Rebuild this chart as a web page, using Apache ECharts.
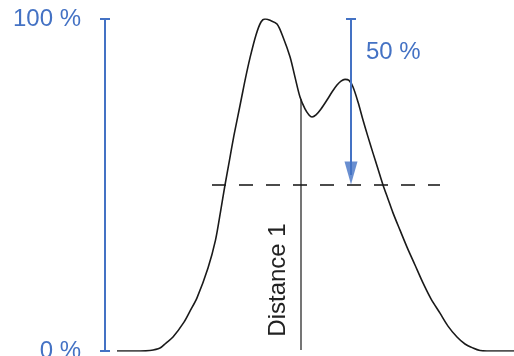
<!DOCTYPE html>
<html>
<head>
<meta charset="utf-8">
<script src="https://cdn.jsdelivr.net/npm/echarts@6/dist/echarts.min.js"></script>
<style>html,body{margin:0;padding:0;background:#fff}#c{width:514px;height:356px}</style>
</head>
<body>
<div id="c"></div>
<script>
// Curve: position (arbitrary units) and relative signal (%)
const positions = [12, 35, 45, 55, 61, 68, 79, 85, 92, 103, 110.5, 115.5, 120, 124.5, 128.5, 132.5, 136.5, 140.5, 145, 151, 156, 160, 165, 172, 178, 185, 190, 195, 200, 204, 207, 211, 216, 222, 227, 232, 236, 240, 244, 248, 253, 258, 263, 268, 273, 278, 283, 288, 295, 302, 310, 318, 326, 335, 343, 352, 360, 368, 375, 382, 409];
const signal    = [0, 0, 0.15, 0.9, 2.4, 4.2, 8.7, 12.0, 16.0, 25.0, 33.4, 41.9, 50.0, 57.5, 64.2, 70.2, 76.2, 82.2, 88.3, 95.2, 99.1, 100, 99.6, 98.5, 94.6, 88.6, 82.5, 76.5, 72.9, 71.1, 70.5, 71.1, 72.9, 75.6, 78.0, 80.1, 81.3, 81.8, 81.5, 79.5, 75.0, 69.6, 64.5, 59.6, 54.8, 50.0, 45.8, 41.6, 36.4, 31.3, 25.9, 20.5, 15.7, 11.4, 7.5, 4.2, 2.1, 0.9, 0.15, 0, 0];
const yTicks = [0, 100];
const halfLevel = 50;
const dashedFrom = 107, dashedTo = 335;
const distancePos = 196, distanceTop = 75.8, distanceBottom = 0.3;
const arrowPos = 246, arrowCapHalf = 5;
const labels = { half: '50 %', distance: 'Distance 1' };

const blue = '#4472c4';
const ink = '#1a1a1a';
const font = 'Liberation Sans, Arial, Helvetica, sans-serif';

const chart = echarts.init(document.getElementById('c'), null, { renderer: 'canvas' });
const curve = positions.map((p, i) => [p, signal[i]]);

chart.setOption({
  animation: false,
  grid: { left: 105, right: 0, top: 19, bottom: 5, outerBoundsMode: 'none', containLabel: false },
  xAxis: { type: 'value', min: 0, max: 409, show: false },
  yAxis: [
    {
      type: 'value', min: yTicks[0], max: yTicks[1], interval: 100, position: 'left',
      axisLine: { show: true, lineStyle: { color: blue, width: 2 } },
      axisTick: { show: true, inside: false, length: 5, lineStyle: { color: blue, width: 2 } },
      axisLabel: { formatter: '{value} %', margin: 24, color: blue, fontSize: 24, fontFamily: font },
      splitLine: { show: false }
    },
    {
      type: 'value', min: yTicks[0], max: yTicks[1], interval: 100, position: 'left',
      axisLine: { show: false },
      axisTick: { show: true, inside: true, length: 5, lineStyle: { color: blue, width: 2 } },
      axisLabel: { show: false },
      splitLine: { show: false }
    }
  ],
  series: [
    {
      type: 'line', data: curve, smooth: 0.3, symbol: 'none',
      lineStyle: { color: ink, width: 1.6 }, z: 3
    },
    {
      type: 'line', data: [[dashedFrom, halfLevel], [dashedTo, halfLevel]], symbol: 'none',
      lineStyle: { color: '#111', width: 1.4, type: [14, 13] }, z: 2
    },
    {
      type: 'line', data: [[distancePos, distanceTop], [distancePos, distanceBottom]], symbol: 'none',
      lineStyle: { color: ink, width: 1.2 }, z: 2
    },
    {
      type: 'line', data: [[arrowPos, 100], [arrowPos, halfLevel + 3]], symbol: 'none',
      lineStyle: { color: blue, width: 2 }, z: 4
    },
    {
      type: 'line', data: [[arrowPos - arrowCapHalf, 100], [arrowPos + arrowCapHalf, 100]], symbol: 'none',
      lineStyle: { color: blue, width: 2 }, z: 4
    },
    {
      type: 'scatter', data: [[arrowPos, halfLevel]],
      symbol: 'path://M0,0 L13,0 L6.5,23 Z', symbolSize: [13, 23], symbolOffset: [0, -12],
      itemStyle: { color: blue }, z: 5
    }
  ],
  graphic: [
    {
      type: 'text', left: 366, top: 40,
      style: { text: labels.half, fill: blue, font: '24px ' + font }
    },
    {
      type: 'text', x: 278, y: 280, rotation: Math.PI / 2,
      style: { text: labels.distance, fill: '#222', font: '24px ' + font, align: 'center', verticalAlign: 'middle' }
    }
  ]
});
</script>
</body>
</html>
